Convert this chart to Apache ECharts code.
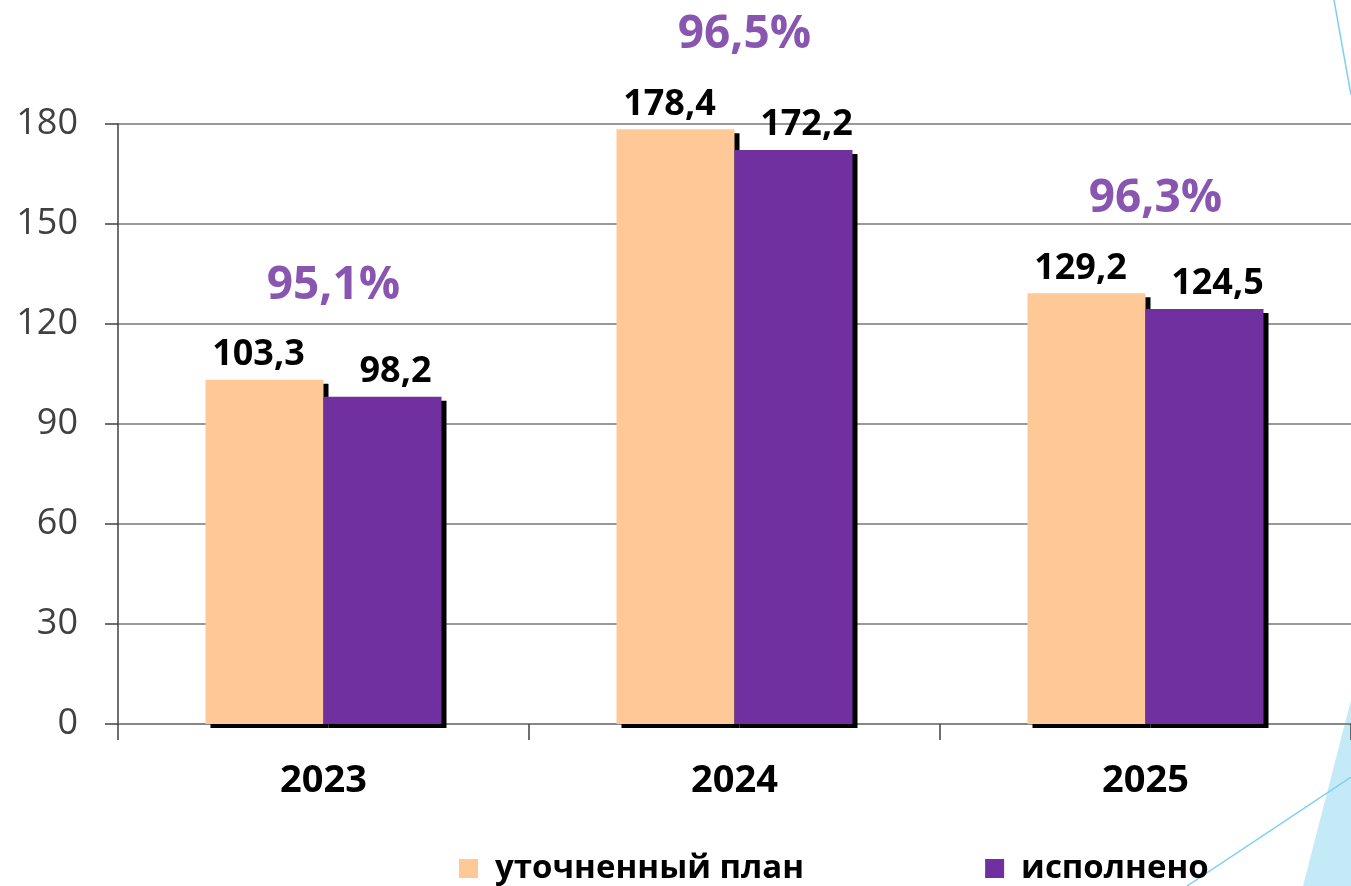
<!DOCTYPE html>
<html>
<head>
<meta charset="utf-8">
<script src="https://cdn.jsdelivr.net/npm/echarts@6/dist/echarts.min.js"></script>
<style>
html,body{margin:0;padding:0;background:#fff;}
#c{width:1351px;height:886px;}
</style>
</head>
<body>
<div id="c"></div>
<script>
const categories = ['2023', '2024', '2025'];
const planValues = [103.3, 178.4, 129.2];
const doneValues = [98.2, 172.2, 124.5];
const pctLabels = ['95,1%', '96,5%', '96,3%'];
const seriesNames = ['уточненный план', 'исполнено'];
const yMin = 0, yMax = 180, yStep = 30;

const FONT = '"Open Sans", "Noto Sans", sans-serif';
const ORANGE = '#FFC997';
const PURPLE = '#7030A0';
const fmt = v => String(v).replace('.', ',');

const chart = echarts.init(document.getElementById('c'), null, {renderer: 'canvas'});
const barShadow = {shadowColor: '#000', shadowBlur: 0, shadowOffsetX: 5, shadowOffsetY: 4};

chart.setOption({
  animation: false,
  backgroundColor: '#fff',
  textStyle: {fontFamily: FONT},
  grid: {left: 118, top: 124, width: 1242, height: 600},
  legend: {
    data: seriesNames,
    left: 454, top: 847,
    icon: 'rect', itemWidth: 19, itemHeight: 19, itemGap: 181,
    textStyle: {fontFamily: FONT, fontSize: 33, fontWeight: 'bold', color: '#000', padding: [0, 0, 0, 12]}
  },
  xAxis: {
    type: 'category', data: categories,
    axisLine: {lineStyle: {color: '#808080', width: 1.5}},
    axisTick: {show: true, length: 16, lineStyle: {color: '#404040', width: 1.5}},
    axisLabel: {fontFamily: FONT, fontSize: 38, fontWeight: 'bold', color: '#000', margin: 38}
  },
  yAxis: {
    type: 'value', min: yMin, max: yMax, interval: yStep,
    axisLine: {show: true, lineStyle: {color: '#404040', width: 1.5}},
    axisTick: {show: true, length: 13, lineStyle: {color: '#404040', width: 1.5}},
    axisLabel: {fontFamily: FONT, fontSize: 36, color: '#404040', margin: 40},
    splitLine: {lineStyle: {color: '#999', width: 2}}
  },
  series: [
    {
      name: seriesNames[0], type: 'bar', data: planValues,
      barWidth: 118, barGap: '0%',
      itemStyle: Object.assign({color: ORANGE}, barShadow),
      label: {show: true, position: 'top', distance: 7, offset: [-6, 0],
        formatter: p => fmt(p.value), fontFamily: FONT, fontSize: 36, fontWeight: 'bold', color: '#000'}
    },
    {
      name: seriesNames[1], type: 'bar', data: doneValues,
      barWidth: 118, barGap: '0%',
      itemStyle: Object.assign({color: PURPLE}, barShadow),
      label: {show: true, position: 'top', distance: 7, offset: [13, 0],
        formatter: p => fmt(p.value), fontFamily: FONT, fontSize: 36, fontWeight: 'bold', color: '#000'}
    },
    {
      name: 'pct', type: 'scatter', data: planValues, symbolSize: 0, z: 10, silent: true,
      label: {show: true, position: 'inside', offset: [10, -94],
        formatter: p => pctLabels[p.dataIndex], fontFamily: FONT, fontSize: 46, fontWeight: 'bold', color: '#6A2C9C'}
    }
  ],
  graphic: [
    {type: 'polygon', shape: {points: [[1303, 886], [1351, 700], [1351, 886]]}, style: {fill: '#C5EAF7'}, silent: true},
    {type: 'line', shape: {x1: 1187, y1: 886, x2: 1351, y2: 777}, style: {stroke: '#7FCFEE', lineWidth: 1.5}, silent: true},
    {type: 'line', shape: {x1: 1334, y1: 0, x2: 1351, y2: 95}, style: {stroke: '#7FCFEE', lineWidth: 1.5}, silent: true}
  ]
});
</script>
</body>
</html>
